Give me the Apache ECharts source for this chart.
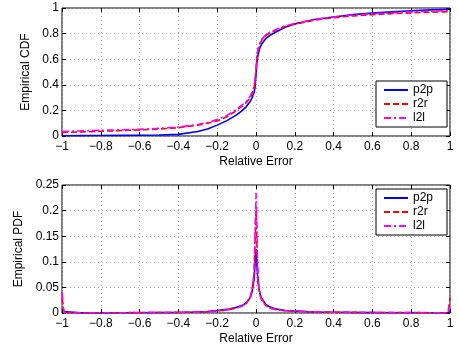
<!DOCTYPE html>
<html><head><meta charset="utf-8">
<script src="https://cdn.jsdelivr.net/npm/echarts@6/dist/echarts.min.js"></script>
<style>html,body{margin:0;padding:0;background:#fff}#c{width:459px;height:352px}</style>
</head><body><div id="c"></div>
<script>
// CDF data
var cdfX = [-1,-0.9,-0.8,-0.7,-0.6,-0.5,-0.4,-0.3,-0.25,-0.2,-0.15,-0.1,-0.07,-0.05,-0.03,-0.02,-0.01,-0.005,0,0.005,0.01,0.02,0.03,0.05,0.07,0.1,0.15,0.2,0.3,0.4,0.5,0.6,0.7,0.8,0.9,1];
var cdfP2P = [0.002,0.003,0.004,0.005,0.006,0.008,0.013,0.035,0.055,0.085,0.12,0.165,0.2,0.23,0.27,0.3,0.34,0.38,0.48,0.58,0.63,0.69,0.72,0.76,0.785,0.81,0.85,0.875,0.91,0.93,0.948,0.96,0.97,0.978,0.985,0.99];
var cdfR2R = [0.028,0.032,0.037,0.042,0.047,0.055,0.065,0.085,0.1,0.118,0.15,0.2,0.235,0.26,0.3,0.33,0.38,0.43,0.52,0.62,0.67,0.72,0.75,0.785,0.805,0.825,0.855,0.875,0.905,0.925,0.938,0.948,0.956,0.962,0.967,0.972];
var cdfL2L = [0.035,0.04,0.045,0.048,0.052,0.06,0.07,0.09,0.105,0.128,0.16,0.21,0.245,0.27,0.31,0.34,0.39,0.44,0.53,0.63,0.68,0.73,0.755,0.79,0.81,0.83,0.86,0.88,0.91,0.93,0.945,0.955,0.963,0.97,0.975,0.98];
// PDF data
var pdfX = [-1,-0.99,-0.9,-0.8,-0.7,-0.6,-0.5,-0.4,-0.3,-0.25,-0.2,-0.15,-0.1,-0.07,-0.05,-0.03,-0.02,-0.01,0,0.01,0.02,0.03,0.05,0.07,0.1,0.15,0.2,0.3,0.4,0.5,0.6,0.7,0.8,0.9,0.99,1];
var pdfP2P = [0.003,0,0.0002,0.0003,0.0004,0.0005,0.0007,0.001,0.002,0.003,0.005,0.007,0.011,0.015,0.02,0.03,0.042,0.065,0.125,0.06,0.038,0.028,0.017,0.012,0.008,0.005,0.004,0.002,0.0015,0.001,0.0008,0.0006,0.0005,0.0004,0.0004,0.003];
var pdfR2R = [0.03,0,0.0004,0.0005,0.0006,0.0007,0.0009,0.0012,0.0018,0.0025,0.004,0.006,0.01,0.014,0.019,0.03,0.045,0.075,0.2,0.065,0.036,0.025,0.015,0.01,0.007,0.0045,0.0035,0.002,0.0015,0.0012,0.001,0.0008,0.0007,0.0006,0.0006,0.03];
var pdfL2L = [0.04,0,0.0004,0.0005,0.0006,0.0007,0.0009,0.0012,0.0018,0.0025,0.004,0.006,0.01,0.014,0.019,0.03,0.046,0.078,0.235,0.068,0.037,0.026,0.015,0.01,0.007,0.0045,0.0035,0.002,0.0015,0.0012,0.001,0.0008,0.0007,0.0006,0.0006,0.02];
var seriesNames = ['p2p','r2r','l2l'];
var xTickInterval = 0.2;

function zip(xs, ys){ return xs.map(function(x,i){ return [x, ys[i]]; }); }
var FONT = 'Liberation Sans, Arial, Helvetica, sans-serif';
var styles = [
  {color:'#0000ff', type:'solid'},
  {color:'#ff0000', type:[6,3]},
  {color:'#ff00ff', type:[7,3,2,3]}
];
function fmtX(v){ var s = (Math.round(v*10)/10).toString(); return s.replace('-', '\u2212'); }
function mkX(gi, top){
  return {
    type:'value', gridIndex:gi, min:-1, max:1, interval:xTickInterval,
    position: top ? 'top' : 'bottom',
    name: top ? '' : 'Relative Error', nameLocation:'middle', nameGap:20,
    nameTextStyle:{fontFamily:FONT, fontSize:12, color:'#000'},
    axisLine:{show:false, onZero:false},
    axisTick:{show:true, inside:true, length:4, lineStyle:{color:'#000'}},
    axisLabel:{show:!top, formatter:fmtX, fontFamily:FONT, fontSize:12, color:'#000', margin:5},
    splitLine:{show:!top, lineStyle:{color:'#aaa', type:[1,3], width:1}}
  };
}
function mkY(gi, right, max, interval, name, gap){
  return {
    type:'value', gridIndex:gi, min:0, max:max, interval:interval,
    position: right ? 'right' : 'left',
    name: right ? '' : name, nameLocation:'middle', nameGap:gap,
    nameTextStyle:{fontFamily:FONT, fontSize:12, color:'#000'},
    axisLine:{show:false, onZero:false},
    axisTick:{show:true, inside:true, length:4, lineStyle:{color:'#000'}},
    axisLabel:{show:!right, fontFamily:FONT, fontSize:12, color:'#000', margin:3,
      formatter:function(v){ return String(Math.round(v*100)/100); }},
    splitLine:{show:!right, lineStyle:{color:'#aaa', type:[1,3], width:1}}
  };
}
var series = [];
var cdfs = [cdfP2P, cdfR2R, cdfL2L];
var pdfs = [pdfP2P, pdfR2R, pdfL2L];
for (var i=0;i<3;i++){
  series.push({type:'line', name:seriesNames[i], xAxisIndex:0, yAxisIndex:0, data:zip(cdfX, cdfs[i]),
    showSymbol:false, symbol:'none', lineStyle:{color:styles[i].color, type:styles[i].type, width:1.6}, itemStyle:{color:styles[i].color}, z:3+i});
  series.push({type:'line', name:seriesNames[i], xAxisIndex:2, yAxisIndex:2, data:zip(pdfX, pdfs[i]),
    showSymbol:false, symbol:'none', lineStyle:{color:styles[i].color, type:styles[i].type, width:1.6}, itemStyle:{color:styles[i].color}, z:3+i});
}
function mkLegend(top){
  return {
    show:true,
    data:seriesNames, orient:'vertical', left:376, top:top,
    itemWidth:24, itemHeight:14, itemGap:2, padding:[3,14,3,7],
    borderColor:'#000', borderWidth:1, backgroundColor:'#fff', borderRadius:0,
    textStyle:{fontFamily:FONT, fontSize:12, color:'#000'},
    itemStyle:{opacity:0, borderWidth:0},
    selectedMode:false
  };
}
var chart = echarts.init(document.getElementById('c'), null, {renderer:'canvas'});
chart.setOption({
  animation:false,
  backgroundColor:'#fff',
  grid:[
    {left:62, top:8, width:388, height:128, show:true, borderColor:'#000', borderWidth:1, backgroundColor:'transparent'},
    {left:62, top:185, width:388, height:128, show:true, borderColor:'#000', borderWidth:1, backgroundColor:'transparent'}
  ],
  xAxis:[mkX(0,false), mkX(0,true), mkX(1,false), mkX(1,true)],
  yAxis:[mkY(0,false,1,0.2,'Empirical CDF',30), mkY(0,true,1,0.2,'',0), mkY(1,false,0.25,0.05,'Empirical PDF',37), mkY(1,true,0.25,0.05,'',0)],
  legend:[mkLegend(81), mkLegend(189)],
  series:series
});
</script>
</body></html>
